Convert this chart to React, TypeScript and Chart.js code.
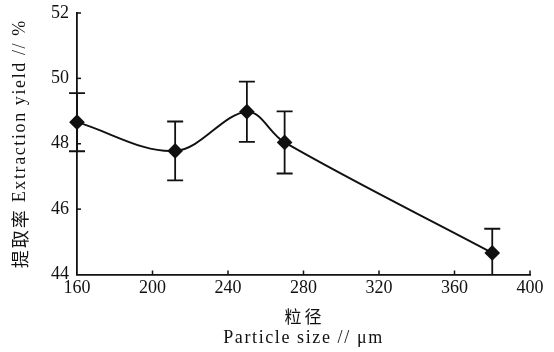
import React, { useEffect, useRef } from "react";
import { Chart, registerables } from "chart.js";

Chart.register(...registerables);

const particleSizes = [160, 212, 250, 270, 380];
const yields = [48.66, 47.78, 48.98, 48.04, 44.66];
const errors = [0.89, 0.9, 0.92, 0.95, 0.74];
const xTickValues = [160, 200, 240, 280, 320, 360, 400];
const yTickValues = [44, 46, 48, 50, 52];
const xTitleCn = "粒径";
const xTitleEn = "Particle size // μm";
const yTitleCn = "提取率";
const yTitleEn = " Extraction yield // %";

const FONT = "'Liberation Serif', 'Noto Sans CJK SC', serif";
const CJK = "'Noto Sans CJK SC', sans-serif";
const INK = "#111";

function drawMixed(ctx: any, parts: { text: string; font: string; spacing: number }[], cx: number, cy: number) {
  let total = 0;
  const widths = parts.map((p) => {
    ctx.font = p.font;
    ctx.letterSpacing = p.spacing + "px";
    const w = ctx.measureText(p.text).width;
    total += w;
    return w;
  });
  let x = cx - total / 2;
  parts.forEach((p, i) => {
    ctx.font = p.font;
    ctx.letterSpacing = p.spacing + "px";
    ctx.fillText(p.text, x, cy);
    x += widths[i];
  });
  ctx.letterSpacing = "0px";
}

const errorBarPlugin = {
  id: "errorBars",
  beforeDatasetsDraw(chart: any) {
    const { ctx, chartArea, scales } = chart;
    const xs = scales.x;
    const ys = scales.y;
    ctx.save();
    ctx.beginPath();
    ctx.rect(0, chartArea.top - 1, chart.width, chartArea.bottom - chartArea.top + 1);
    ctx.clip();
    ctx.strokeStyle = INK;
    ctx.lineWidth = 1.8;
    const cap = 8;
    particleSizes.forEach((xv, i) => {
      const px = xs.getPixelForValue(xv);
      const top = ys.getPixelForValue(yields[i] + errors[i]);
      const bot = ys.getPixelForValue(yields[i] - errors[i]);
      ctx.beginPath();
      ctx.moveTo(px, top);
      ctx.lineTo(px, bot);
      ctx.moveTo(px - cap, top);
      ctx.lineTo(px + cap, top);
      ctx.moveTo(px - cap, bot);
      ctx.lineTo(px + cap, bot);
      ctx.stroke();
    });
    ctx.restore();
  },
  afterDraw(chart: any) {
    const { ctx, chartArea, scales } = chart;
    ctx.save();
    ctx.strokeStyle = INK;
    ctx.lineWidth = 1.5;
    xTickValues.forEach((v) => {
      if (v === 160) return;
      const px = scales.x.getPixelForValue(v);
      ctx.beginPath();
      ctx.moveTo(px, chartArea.bottom);
      ctx.lineTo(px, chartArea.bottom - 4);
      ctx.stroke();
    });
    yTickValues.forEach((v) => {
      if (v === 44) return;
      const py = scales.y.getPixelForValue(v);
      ctx.beginPath();
      ctx.moveTo(chartArea.left, py);
      ctx.lineTo(chartArea.left + 4, py);
      ctx.stroke();
    });

    // axis titles
    ctx.fillStyle = INK;
    ctx.textBaseline = "middle";
    ctx.textAlign = "left";
    const cx = (chartArea.left + chartArea.right) / 2;
    drawMixed(ctx, [{ text: xTitleCn, font: "17px " + CJK, spacing: 3 }], cx + 1, 317);
    drawMixed(ctx, [{ text: xTitleEn, font: "18px " + FONT, spacing: 1.6 }], cx, 338);

    const cy = (chartArea.top + chartArea.bottom) / 2;
    ctx.translate(20, cy);
    ctx.rotate(-Math.PI / 2);
    drawMixed(
      ctx,
      [
        { text: yTitleCn, font: "18px " + CJK, spacing: 2 },
        { text: yTitleEn, font: "18px " + FONT, spacing: 1.6 },
      ],
      0,
      0
    );
    ctx.restore();
  },
};

export default function App() {
  const ref = useRef<HTMLCanvasElement>(null);
  useEffect(() => {
    if (!ref.current) return;
    const chart = new Chart(ref.current, {
      type: "line",
      data: {
        datasets: [
          {
            data: particleSizes.map((x, i) => ({ x, y: yields[i] })),
            borderColor: INK,
            borderWidth: 1.9,
            tension: 0.35,
            pointStyle: "rectRot",
            pointRadius: 6.5,
            pointBackgroundColor: INK,
            pointBorderColor: INK,
            fill: false,
            clip: false as any,
          },
        ],
      },
      plugins: [errorBarPlugin],
      options: {
        animation: false,
        responsive: false,
        layout: { padding: { top: 13, right: 24, left: 0, bottom: 0 } },
        plugins: { legend: { display: false }, tooltip: { enabled: false } },
        scales: {
          x: {
            type: "linear",
            min: 160,
            max: 400,
            afterBuildTicks: (s: any) => {
              s.ticks = xTickValues.map((v) => ({ value: v }));
            },
            afterFit: (s: any) => {
              s.height = 77.5;
              s.paddingLeft = 0;
              s.paddingRight = 0;
            },
            grid: { display: false, drawTicks: false },
            border: { display: true, color: INK, width: 1.8 },
            ticks: { color: INK, font: { family: FONT, size: 18 }, padding: 3, maxRotation: 0 },
            title: { display: false },
          },
          y: {
            type: "linear",
            min: 44,
            max: 52,
            afterBuildTicks: (s: any) => {
              s.ticks = yTickValues.map((v) => ({ value: v }));
            },
            afterFit: (s: any) => {
              s.width = 77;
              s.paddingTop = 0;
              s.paddingBottom = 0;
            },
            grid: { display: false, drawTicks: false },
            border: { display: true, color: INK, width: 1.8 },
            ticks: { color: INK, font: { family: FONT, size: 18 }, padding: 8 },
            title: { display: false },
          },
        },
      },
    });
    return () => chart.destroy();
  }, []);
  return (
    <div style={{ position: "absolute", left: 0, top: 0, width: 554, height: 352, background: "#fff" }}>
      <canvas ref={ref} width={554} height={352} />
    </div>
  );
}
